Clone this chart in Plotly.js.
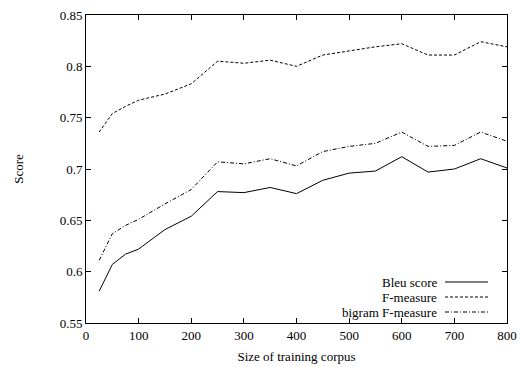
<!DOCTYPE html>
<html>
<head>
<meta charset="utf-8">
<script src="https://cdn.plot.ly/plotly-3.0.1.min.js"></script>
<style>html,body{margin:0;padding:0;background:#fff;}#chart{width:520px;height:367px;}</style>
</head>
<body>
<div id="chart"></div>
<script>
var corpusSize = [25, 50, 75, 100, 150, 200, 250, 300, 350, 400, 450, 500, 550, 600, 650, 700, 750, 800];
var bleuScore = [0.581, 0.607, 0.617, 0.622, 0.641, 0.654, 0.678, 0.677, 0.682, 0.676, 0.689, 0.696, 0.698, 0.712, 0.697, 0.700, 0.710, 0.701];
var fMeasure = [0.736, 0.754, 0.761, 0.767, 0.773, 0.783, 0.805, 0.803, 0.806, 0.800, 0.811, 0.815, 0.819, 0.822, 0.811, 0.811, 0.824, 0.819];
var bigramF = [0.611, 0.637, 0.645, 0.651, 0.666, 0.680, 0.707, 0.705, 0.710, 0.703, 0.717, 0.722, 0.725, 0.736, 0.722, 0.723, 0.736, 0.727];
var seriesNames = ["Bleu score", "F-measure", "bigram F-measure"];
var xTicks = [0, 100, 200, 300, 400, 500, 600, 700, 800];
var yTicks = [0.55, 0.6, 0.65, 0.7, 0.75, 0.8, 0.85];
var yTickText = ["0.55", "0.6", "0.65", "0.7", "0.75", "0.8", "0.85"];

var dashes = ["solid", "3px,2px", "4px,2px,1px,2px"];
var ys = [bleuScore, fMeasure, bigramF];
var traces = ys.map(function(y, i){
  return {x: corpusSize, y: y, type: 'scatter', mode: 'lines', name: seriesNames[i],
    line: {color: '#000', width: 1, dash: dashes[i]}, showlegend: false, hoverinfo: 'skip'};
});

var font = {family: '"Liberation Serif", "Times New Roman", serif', size: 13, color: '#000'};
var legY = [0.1331, 0.0844, 0.0357];
var annotations = [], shapes = [];
seriesNames.forEach(function(n, i){
  annotations.push({xref: 'paper', yref: 'paper', x: 0.8385, y: legY[i], xanchor: 'right', yanchor: 'middle',
    text: n, showarrow: false, font: font});
  shapes.push({type: 'line', xref: 'paper', yref: 'paper', x0: 0.8527, x1: 0.9549, y0: legY[i], y1: legY[i],
    line: {color: '#000', width: 1, dash: dashes[i]}});
});

var axisCommon = {showline: true, mirror: 'ticks', linecolor: '#000', linewidth: 1, ticks: 'inside',
  ticklen: 5, tickcolor: '#000', showgrid: false, zeroline: false, tickfont: font};

var layout = {
  width: 520, height: 367,
  margin: {l: 86, r: 13, t: 15, b: 44},
  paper_bgcolor: '#fff', plot_bgcolor: '#fff',
  font: font,
  xaxis: Object.assign({}, axisCommon, {range: [0, 800], tickvals: xTicks, ticktext: xTicks.map(String),
    title: {text: 'Size of training corpus', font: font, standoff: 10}}),
  yaxis: Object.assign({}, axisCommon, {range: [0.55, 0.85], tickvals: yTicks, ticktext: yTickText,
    title: {text: 'Score', font: font, standoff: 33}}),
  annotations: annotations,
  shapes: shapes
};
Plotly.newPlot('chart', traces, layout, {staticPlot: true, displayModeBar: false});
</script>
</body>
</html>
